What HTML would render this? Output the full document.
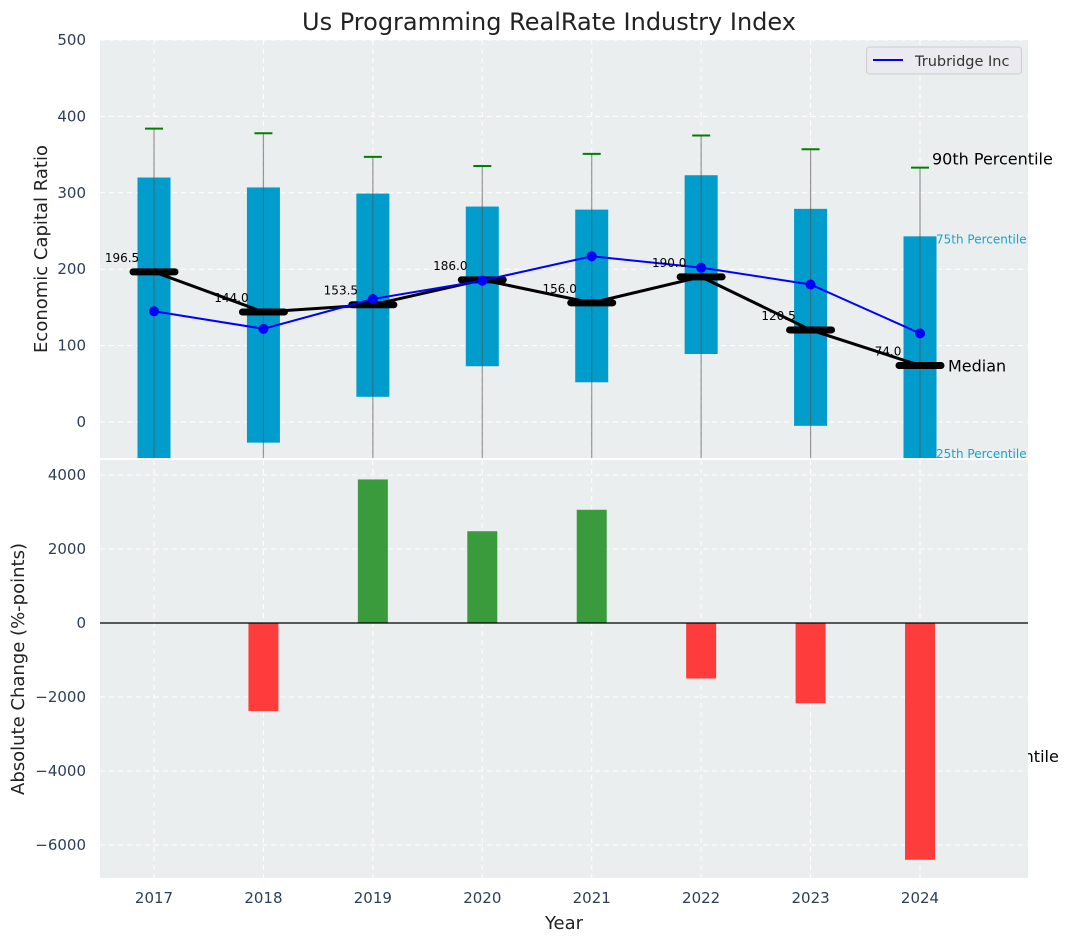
<!DOCTYPE html>
<html><head><meta charset="utf-8"><style>
body{margin:0;background:#fff;}
svg{display:block;font-family:"DejaVu Sans","Liberation Sans",sans-serif;}
</style></head><body>
<svg id="chart" width="1067" height="942" viewBox="0 0 1067 942" xmlns="http://www.w3.org/2000/svg">
<text x="549" y="30" text-anchor="middle" font-size="24" fill="#222">Us Programming RealRate Industry Index</text>
<g id="topg"></g>
<g id="botg"></g>
</svg>
<script>
const years=[2017,2018,2019,2020,2021,2022,2023,2024];
const p90=[384,378,347,335,351,375,357,333];
const p75=[320,307,299,282,278,323,279,243];
const p25=[-60,-27,33,73,52,89,-5,-60];
const p10=[-200,-200,-200,-200,-200,-200,-200,-200];
const medians=[196.5,144,153.5,186,156,190,120.5,74];
const company=[145,122,161,185,217,202,180,116];
const changes=[0,-2380,3880,2480,3060,-1500,-2170,-6400];
const topTicks=[0,100,200,300,400,500];
const botTicks=[-6000,-4000,-2000,0,2000,4000];

const NS="http://www.w3.org/2000/svg";
function mk(tag,attrs,parent,text){const e=document.createElementNS(NS,tag);for(const k in attrs)e.setAttribute(k,attrs[k]);if(text!==undefined)e.textContent=text;parent.appendChild(e);return e;}
const L=100,R=1028;
const x=v=>154+(v-2017)*109.43;
const yT=v=>422-v*0.764;
const yB=v=>623-v*0.037;
const gTop=document.getElementById('topg'),gBot=document.getElementById('botg');

let bg=mk('rect',{x:L,y:40,width:R-L,height:418,fill:'#eaeeef'},gTop);


const cpEl=mk('clipPath',{id:'ct'},gTop);
mk('rect',{x:L,y:40,width:R-L,height:418},cpEl);
topTicks.forEach(t=>{
  mk('line',{x1:L,x2:R,y1:yT(t),y2:yT(t),stroke:'#fff','stroke-dasharray':'5,4','stroke-width':1},gTop);
  const tl=mk('text',{x:86,y:yT(t)+5,'text-anchor':'end','font-size':15,fill:'#2e3f55'},gTop,t);
  
  
});
years.forEach(yr=>{
  mk('line',{x1:x(yr),x2:x(yr),y1:40,y2:458,stroke:'#fff','stroke-dasharray':'5,4','stroke-width':1},gTop);
});
const gc=mk('g',{'clip-path':'url(#ct)'},gTop);
years.forEach((yr,i)=>{
  const cx=x(yr);
  const b=mk('rect',{x:cx-16.5,y:yT(p75[i]),width:33,height:yT(p25[i])-yT(p75[i]),fill:'#009ccc'},gc);
  
  
  mk('line',{x1:cx,x2:cx,y1:yT(p90[i]),y2:yT(p10[i]),stroke:'#555','stroke-opacity':0.6,'stroke-width':1.2},gc);
  const c=mk('line',{x1:cx-9,x2:cx+9,y1:yT(p90[i]),y2:yT(p90[i]),stroke:'green','stroke-width':2},gc);
  
  
});
let mp=years.map((yr,i)=>x(yr)+','+yT(medians[i])).join(' ');
let ml=mk('polyline',{points:mp,fill:'none',stroke:'#000','stroke-width':3},gc);


years.forEach((yr,i)=>{
  const m=mk('line',{x1:x(yr)-21,x2:x(yr)+21,y1:yT(medians[i]),y2:yT(medians[i]),stroke:'#000','stroke-width':7,'stroke-linecap':'round'},gc);
  
  
  const t=mk('text',{x:x(yr)-32,y:yT(medians[i])-10,'text-anchor':'middle','font-size':12,fill:'#000'},gTop,medians[i].toFixed(1));
  
  
});
let cp=years.map((yr,i)=>x(yr)+','+yT(company[i])).join(' ');
let cl=mk('polyline',{points:cp,fill:'none',stroke:'#0000ff','stroke-width':2},gc);


years.forEach((yr,i)=>{
  const d=mk('circle',{cx:x(yr),cy:yT(company[i]),r:5,fill:'#0000ff'},gc);
  
  
});
const last=years.length-1,lx=x(years[last]);
[['90th Percentile',lx+12,yT(p90[last])-3,16,'#000'],['75th Percentile',lx+16,yT(p75[last])+7,12,'#1aa3cf'],['Median',lx+28,yT(medians[last])+6,16,'#000'],['25th Percentile',lx+16,458,12,'#1aa3cf']].forEach(a=>{
  const t=mk('text',{x:a[1],y:a[2],'font-size':a[3],fill:a[4]},gTop,a[0]);
  
  
});
const yl=mk('text',{x:47,y:249,'text-anchor':'middle','font-size':18,fill:'#222',transform:'rotate(-90 47 249)'},gTop,'Economic Capital Ratio');


const lg=mk('g',{},gTop);


mk('rect',{x:866.5,y:47,width:155,height:27,rx:3,fill:'#eaeaf0',stroke:'#ccc'},lg);
mk('line',{x1:873,x2:903,y1:60,y2:60,stroke:'#0000ff','stroke-width':2},lg);
mk('text',{x:915,y:66,'font-size':14.5,fill:'#333'},lg,'Trubridge Inc');

const p10t=mk('text',{x:lx+18,y:762,'font-size':16,fill:'#000'},gBot,'10th Percentile');


let bg2=mk('rect',{x:L,y:460,width:R-L,height:418,fill:'#eaeeef'},gBot);


botTicks.forEach(t=>{
  mk('line',{x1:L,x2:R,y1:yB(t),y2:yB(t),stroke:'#fff','stroke-dasharray':'5,4','stroke-width':1},gBot);
  const tl=mk('text',{x:86,y:yB(t)+5,'text-anchor':'end','font-size':15,fill:'#2e3f55'},gBot,t<0?'\u2212'+Math.abs(t):t);
  
  
});
years.forEach((yr,i)=>{
  mk('line',{x1:x(yr),x2:x(yr),y1:460,y2:878,stroke:'#fff','stroke-dasharray':'5,4','stroke-width':1},gBot);
  const v=changes[i];
  const b=mk('rect',{x:x(yr)-15,y:Math.min(yB(v),yB(0)),width:30,height:Math.abs(yB(v)-yB(0)),fill:v>=0?'#3a9b3c':'#ff3c3c'},gBot);
  
  
  const tl=mk('text',{x:x(yr),y:903,'text-anchor':'middle','font-size':15,fill:'#2e3f55'},gBot,yr);
  
  
});
mk('line',{x1:L,x2:R,y1:yB(0),y2:yB(0),stroke:'#000','stroke-width':1.2},gBot);
const yl2=mk('text',{x:24,y:669,'text-anchor':'middle','font-size':18,fill:'#222',transform:'rotate(-90 24 669)'},gBot,'Absolute Change (%-points)');


const xl=mk('text',{x:564,y:929,'text-anchor':'middle','font-size':18,fill:'#222'},gBot,'Year');


</script>
</body></html>
